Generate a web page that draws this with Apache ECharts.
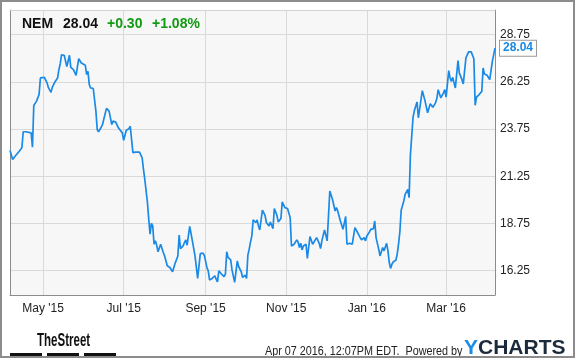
<!DOCTYPE html>
<html><head><meta charset="utf-8">
<script src="https://cdn.jsdelivr.net/npm/echarts@6/dist/echarts.min.js"></script>
<style>html,body{margin:0;padding:0;background:#fff}#c{width:575px;height:358px}</style>
</head><body><div id="c"></div>
<script>
const dates = [
'2015-04-06','2015-04-08','2015-04-10','2015-04-13','2015-04-15','2015-04-16','2015-04-18','2015-04-22','2015-04-23','2015-04-24',
'2015-04-26','2015-04-28','2015-04-29','2015-04-30','2015-05-02','2015-05-04','2015-05-05','2015-05-07','2015-05-08','2015-05-10',
'2015-05-12','2015-05-13','2015-05-14','2015-05-15','2015-05-17','2015-05-18','2015-05-19','2015-05-21','2015-05-22','2015-05-24',
'2015-05-26','2015-05-28','2015-05-30','2015-05-31','2015-06-02','2015-06-03','2015-06-04','2015-06-05','2015-06-06','2015-06-08',
'2015-06-09','2015-06-10','2015-06-11','2015-06-12','2015-06-14','2015-06-15','2015-06-16','2015-06-18','2015-06-20','2015-06-22',
'2015-06-23','2015-06-25','2015-06-27','2015-06-30','2015-07-01','2015-07-03','2015-07-05','2015-07-06','2015-07-08','2015-07-09',
'2015-07-10','2015-07-13','2015-07-15','2015-07-16','2015-07-17','2015-07-19','2015-07-20','2015-07-21','2015-07-22','2015-07-23',
'2015-07-24','2015-07-25','2015-07-26','2015-07-27','2015-07-29','2015-07-30','2015-07-31','2015-08-01','2015-08-03','2015-08-05',
'2015-08-06','2015-08-07','2015-08-09','2015-08-11','2015-08-12','2015-08-13','2015-08-15','2015-08-16','2015-08-17','2015-08-18',
'2015-08-20','2015-08-22','2015-08-24','2015-08-26','2015-08-28','2015-08-30','2015-08-31','2015-09-02','2015-09-03','2015-09-04',
'2015-09-06','2015-09-08','2015-09-09','2015-09-10','2015-09-11','2015-09-13','2015-09-15','2015-09-16','2015-09-17','2015-09-18',
'2015-09-20','2015-09-21','2015-09-23','2015-09-24','2015-09-25','2015-09-26','2015-09-28','2015-09-29','2015-10-01','2015-10-02',
'2015-10-03','2015-10-04','2015-10-05','2015-10-06','2015-10-07','2015-10-09','2015-10-10','2015-10-11','2015-10-12','2015-10-14',
'2015-10-16','2015-10-17','2015-10-19','2015-10-20','2015-10-22','2015-10-23','2015-10-25','2015-10-26','2015-10-28','2015-10-29',
'2015-10-31','2015-11-01','2015-11-02','2015-11-04','2015-11-05','2015-11-07','2015-11-09','2015-11-10','2015-11-11','2015-11-12',
'2015-11-13','2015-11-14','2015-11-16','2015-11-17','2015-11-19','2015-11-21','2015-11-22','2015-11-24','2015-11-26','2015-11-27',
'2015-11-28','2015-11-30','2015-12-02','2015-12-04','2015-12-06','2015-12-08','2015-12-09','2015-12-10','2015-12-12','2015-12-14',
'2015-12-15','2015-12-16','2015-12-17','2015-12-19','2015-12-21','2015-12-23','2015-12-25','2015-12-27','2015-12-28','2015-12-30',
'2015-12-31','2016-01-01','2016-01-03','2016-01-04','2016-01-06','2016-01-07','2016-01-08','2016-01-10','2016-01-11','2016-01-12',
'2016-01-13','2016-01-14','2016-01-16','2016-01-17','2016-01-18','2016-01-19','2016-01-20','2016-01-21','2016-01-23','2016-01-24',
'2016-01-25','2016-01-26','2016-01-27','2016-01-28','2016-01-29','2016-01-30','2016-02-01','2016-02-02','2016-02-03','2016-02-05',
'2016-02-06','2016-02-08','2016-02-09','2016-02-10','2016-02-12','2016-02-14','2016-02-16','2016-02-18','2016-02-20','2016-02-22',
'2016-02-23','2016-02-24','2016-02-26','2016-02-28','2016-02-29','2016-03-01','2016-03-03','2016-03-04','2016-03-05','2016-03-06',
'2016-03-08','2016-03-10','2016-03-11','2016-03-13','2016-03-14','2016-03-16','2016-03-17','2016-03-18','2016-03-20','2016-03-22',
'2016-03-23','2016-03-24','2016-03-26','2016-03-28','2016-03-29','2016-03-30','2016-04-01','2016-04-03','2016-04-04','2016-04-05',
'2016-04-07'];
const prices = [
22.62,22.14,22.32,22.58,22.76,23.61,23.61,23.55,22.79,25.00,
25.22,25.58,26.46,26.53,26.49,26.20,25.96,25.70,25.96,26.25,
26.46,26.90,27.20,27.69,27.66,27.60,27.07,27.66,27.02,26.90,
26.60,27.48,27.25,27.20,27.13,26.64,26.81,26.11,25.93,25.90,
25.88,24.70,23.73,23.61,23.85,23.99,24.05,24.85,24.70,23.99,
24.17,24.12,23.82,23.55,23.16,23.69,23.77,23.90,22.50,22.58,
22.53,22.53,22.23,21.61,21.09,19.86,18.97,18.18,18.76,18.62,
17.65,17.83,17.60,17.25,17.65,17.65,17.21,17.03,16.51,16.42,
16.37,16.19,16.65,17.03,18.13,17.42,17.56,17.74,17.88,17.60,
18.59,17.83,17.03,15.84,17.15,17.18,17.07,16.42,16.24,15.76,
15.84,15.98,15.80,15.66,16.24,16.07,15.94,16.07,17.25,16.95,
16.82,16.29,15.63,15.59,16.77,16.47,16.19,15.89,16.01,15.84,
17.07,17.39,17.77,18.09,18.94,18.80,18.94,18.62,18.41,19.46,
19.18,18.80,18.62,18.83,18.48,19.54,19.18,18.83,19.01,19.89,
19.59,19.68,19.54,19.06,17.56,17.65,17.88,17.77,17.48,17.70,
17.35,17.56,17.65,16.90,18.06,17.65,17.60,18.00,17.70,17.42,
17.83,18.41,17.83,20.47,20.03,19.41,19.59,19.41,18.88,18.44,
18.44,19.12,17.65,17.70,17.65,18.53,18.27,18.00,17.88,18.00,
17.83,18.09,18.30,18.44,18.48,18.88,18.00,17.39,17.03,17.00,
17.48,17.30,17.70,17.30,16.68,16.37,16.59,16.72,16.80,17.12,
17.65,18.30,19.45,19.50,19.94,20.29,20.56,20.12,22.41,24.38,
24.73,25.19,24.35,24.35,25.79,25.26,24.61,25.09,24.91,25.14,
25.37,25.84,25.40,25.67,25.84,25.44,26.85,26.46,26.28,26.49,
25.93,27.38,26.73,26.37,26.14,27.52,27.52,27.84,27.84,27.48,
25.01,25.44,25.58,25.75,26.99,26.67,26.60,26.37,26.32,27.34,
28.04];
const xTickDates = ['2015-05-01','2015-07-01','2015-09-01','2015-11-01','2016-01-01','2016-03-01'];
const xTickLabels = ["May '15","Jul '15","Sep '15","Nov '15","Jan '16","Mar '16"];
const yTicks = [16.25, 18.75, 21.25, 23.75, 26.25, 28.75];
const yMin = 14.96, yMax = 30.06;
const xMin = '2015-04-06', xMax = '2016-04-07';
const headerTicker = 'NEM', headerPrice = '28.04', headerChange = '+0.30', headerPct = '+1.08%';
const footerStamp = 'Apr 07 2016, 12:07PM EDT.  Powered by';

const FONT = "'Liberation Sans', Arial, sans-serif";
const ts = s => { const [y, m, d] = s.split('-').map(Number); return Date.UTC(y, m - 1, d); };
const xTickTs = xTickDates.map(ts);
const seriesData = dates.map((d, i) => [ts(d), prices[i]]);
const BLUE = '#1a8ae6';

const chart = echarts.init(document.getElementById('c'), null, {renderer: 'canvas'});
chart.setOption({
  animation: false,
  grid: {left: 10, right: 80, top: 10, bottom: 63, show: true, backgroundColor: '#f7f7f7', borderWidth: 0},
  xAxis: [{
    type: 'value', min: ts(xMin), max: ts(xMax),
    axisLine: {show: true, onZero: false, lineStyle: {color: '#8c8c8c', width: 1}},
    axisTick: {show: false, customValues: xTickTs},
    axisLabel: {customValues: xTickTs, color: '#222', fontSize: 12, fontFamily: FONT, margin: 8,
      formatter: v => { const i = xTickTs.indexOf(v); return i >= 0 ? xTickLabels[i] : ''; }},
    splitLine: {show: true, customValues: xTickTs, lineStyle: {color: '#dadada', width: 1}}
  }, {
    type: 'value', position: 'top', min: ts(xMin), max: ts(xMax),
    axisLine: {show: true, onZero: false, lineStyle: {color: '#d2d2d2', width: 1}},
    axisTick: {show: false}, axisLabel: {show: false}, splitLine: {show: false}
  }],
  yAxis: [{
    type: 'value', position: 'right', min: yMin, max: yMax,
    axisLine: {show: true, onZero: false, lineStyle: {color: '#8c8c8c', width: 1}},
    axisTick: {show: false, customValues: yTicks},
    axisLabel: {customValues: yTicks, color: '#222', fontSize: 12, fontFamily: FONT, margin: 5,
      formatter: v => v.toFixed(2)},
    splitLine: {show: true, customValues: yTicks, lineStyle: {color: '#dadada', width: 1}}
  }, {
    type: 'value', position: 'left', min: yMin, max: yMax,
    axisLine: {show: true, onZero: false, lineStyle: {color: '#8c8c8c', width: 1}},
    axisTick: {show: false}, axisLabel: {show: false}, splitLine: {show: false}
  }],
  series: [{
    type: 'line', data: seriesData, showSymbol: false, symbol: 'none',
    lineStyle: {color: BLUE, width: 1.7}, itemStyle: {color: BLUE},
    endLabel: {show: true, formatter: p => p.value[1].toFixed(2), color: BLUE, fontWeight: 'bold',
      fontSize: 12, fontFamily: FONT, backgroundColor: '#fff', borderColor: '#9a9a9a', borderWidth: 1,
      padding: [2, 3, 1, 3], distance: 5}
  }],
  graphic: [
    {type: 'rect', silent: true, shape: {x: 1, y: 1, width: 573, height: 356},
      style: {fill: 'none', stroke: '#8c8c8c', lineWidth: 2}, z: 100},
    {type: 'text', x: 22, y: 24, style: {text: headerTicker, font: 'bold 14px ' + FONT, fill: '#111', verticalAlign: 'middle'}, z: 50},
    {type: 'text', x: 63, y: 24, style: {text: headerPrice, font: 'bold 14px ' + FONT, fill: '#111', verticalAlign: 'middle'}, z: 50},
    {type: 'text', x: 107, y: 24, style: {text: headerChange, font: 'bold 14px ' + FONT, fill: '#129a12', verticalAlign: 'middle'}, z: 50},
    {type: 'text', x: 152, y: 24, style: {text: headerPct, font: 'bold 14px ' + FONT, fill: '#129a12', verticalAlign: 'middle'}, z: 50},
    {type: 'text', x: 37, y: 341, scaleX: 0.64, style: {text: 'TheStreet', font: 'bold 18px ' + FONT, fill: '#111', verticalAlign: 'middle'}, z: 50},
    {type: 'rect', shape: {x: 10, y: 353, width: 32, height: 3}, style: {fill: '#111'}, z: 50},
    {type: 'rect', shape: {x: 47, y: 353, width: 32, height: 3}, style: {fill: '#111'}, z: 50},
    {type: 'rect', shape: {x: 84, y: 353, width: 32, height: 3}, style: {fill: '#111'}, z: 50},
    {type: 'text', x: 265, y: 352, scaleX: 0.9, style: {text: footerStamp, font: '12px ' + FONT, fill: '#222', verticalAlign: 'middle'}, z: 50},
    {type: 'text', x: 464, y: 348, style: {text: '{a|Y}{b|CHARTS}', verticalAlign: 'middle',
      rich: {a: {font: 'bold 21px ' + FONT, fill: '#1b8de6'}, b: {font: 'bold 21px ' + FONT, fill: '#1c2b3c'}}}, z: 50}
  ]
});
</script>
</body></html>
